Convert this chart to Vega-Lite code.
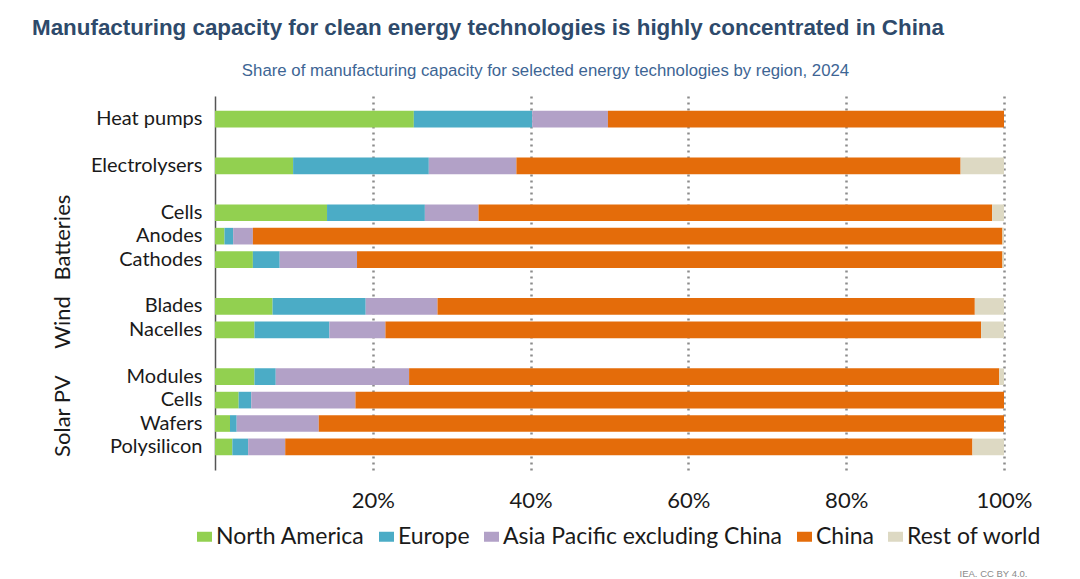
{
  "$schema": "https://vega.github.io/schema/vega-lite/v6.json",
  "width": 789,
  "height": 374,
  "autosize": {"type": "none"},
  "padding": {"left": 215, "top": 96, "right": 76, "bottom": 109},
  "background": "white",
  "config": {"view": {"stroke": null}},
  "title": {
    "text": "Manufacturing capacity for clean energy technologies is highly concentrated in China",
    "anchor": "start",
    "frame": "group",
    "dx": -183,
    "dy": -13,
    "font": "Liberation Sans",
    "fontSize": 22.4,
    "fontWeight": "bold",
    "color": "#2E4A6B",
    "offset": 10
  },
  "datasets": {
    "shares": [
      {"key": "Heat pumps", "region": "North America", "share": 25.2},
      {"key": "Heat pumps", "region": "Europe", "share": 15.0},
      {"key": "Heat pumps", "region": "Asia Pacific excluding China", "share": 9.6},
      {"key": "Heat pumps", "region": "China", "share": 50.2},
      {"key": "Heat pumps", "region": "Rest of world", "share": 0.0},
      {"key": "Electrolysers", "region": "North America", "share": 9.9},
      {"key": "Electrolysers", "region": "Europe", "share": 17.2},
      {"key": "Electrolysers", "region": "Asia Pacific excluding China", "share": 11.1},
      {"key": "Electrolysers", "region": "China", "share": 56.3},
      {"key": "Electrolysers", "region": "Rest of world", "share": 5.5},
      {"key": "Batteries|Cells", "region": "North America", "share": 14.2},
      {"key": "Batteries|Cells", "region": "Europe", "share": 12.4},
      {"key": "Batteries|Cells", "region": "Asia Pacific excluding China", "share": 6.8},
      {"key": "Batteries|Cells", "region": "China", "share": 65.1},
      {"key": "Batteries|Cells", "region": "Rest of world", "share": 1.5},
      {"key": "Batteries|Anodes", "region": "North America", "share": 1.2},
      {"key": "Batteries|Anodes", "region": "Europe", "share": 1.1},
      {"key": "Batteries|Anodes", "region": "Asia Pacific excluding China", "share": 2.5},
      {"key": "Batteries|Anodes", "region": "China", "share": 95.0},
      {"key": "Batteries|Anodes", "region": "Rest of world", "share": 0.2},
      {"key": "Batteries|Cathodes", "region": "North America", "share": 4.8},
      {"key": "Batteries|Cathodes", "region": "Europe", "share": 3.4},
      {"key": "Batteries|Cathodes", "region": "Asia Pacific excluding China", "share": 9.8},
      {"key": "Batteries|Cathodes", "region": "China", "share": 81.8},
      {"key": "Batteries|Cathodes", "region": "Rest of world", "share": 0.2},
      {"key": "Wind|Blades", "region": "North America", "share": 7.3},
      {"key": "Wind|Blades", "region": "Europe", "share": 11.8},
      {"key": "Wind|Blades", "region": "Asia Pacific excluding China", "share": 9.1},
      {"key": "Wind|Blades", "region": "China", "share": 68.1},
      {"key": "Wind|Blades", "region": "Rest of world", "share": 3.7},
      {"key": "Wind|Nacelles", "region": "North America", "share": 5.0},
      {"key": "Wind|Nacelles", "region": "Europe", "share": 9.5},
      {"key": "Wind|Nacelles", "region": "Asia Pacific excluding China", "share": 7.1},
      {"key": "Wind|Nacelles", "region": "China", "share": 75.5},
      {"key": "Wind|Nacelles", "region": "Rest of world", "share": 2.9},
      {"key": "Solar PV|Modules", "region": "North America", "share": 5.0},
      {"key": "Solar PV|Modules", "region": "Europe", "share": 2.7},
      {"key": "Solar PV|Modules", "region": "Asia Pacific excluding China", "share": 16.9},
      {"key": "Solar PV|Modules", "region": "China", "share": 74.8},
      {"key": "Solar PV|Modules", "region": "Rest of world", "share": 0.6},
      {"key": "Solar PV|Cells", "region": "North America", "share": 3.0},
      {"key": "Solar PV|Cells", "region": "Europe", "share": 1.6},
      {"key": "Solar PV|Cells", "region": "Asia Pacific excluding China", "share": 13.2},
      {"key": "Solar PV|Cells", "region": "China", "share": 82.2},
      {"key": "Solar PV|Cells", "region": "Rest of world", "share": 0.0},
      {"key": "Solar PV|Wafers", "region": "North America", "share": 1.9},
      {"key": "Solar PV|Wafers", "region": "Europe", "share": 0.85},
      {"key": "Solar PV|Wafers", "region": "Asia Pacific excluding China", "share": 10.4},
      {"key": "Solar PV|Wafers", "region": "China", "share": 86.85},
      {"key": "Solar PV|Wafers", "region": "Rest of world", "share": 0.0},
      {"key": "Solar PV|Polysilicon", "region": "North America", "share": 2.2},
      {"key": "Solar PV|Polysilicon", "region": "Europe", "share": 2.0},
      {"key": "Solar PV|Polysilicon", "region": "Asia Pacific excluding China", "share": 4.7},
      {"key": "Solar PV|Polysilicon", "region": "China", "share": 87.1},
      {"key": "Solar PV|Polysilicon", "region": "Rest of world", "share": 4.0}
    ],
    "regions": [
      {"region": "North America", "rank": 1},
      {"region": "Europe", "rank": 2},
      {"region": "Asia Pacific excluding China", "rank": 3},
      {"region": "China", "rank": 4},
      {"region": "Rest of world", "rank": 5}
    ],
    "groups1": [
      {"group": "Batteries", "key": "Batteries|Anodes"}
    ],
    "groups2": [
      {"group": "Wind", "key": "Wind|Blades"},
      {"group": "Solar PV", "key": "Solar PV|Cells"}
    ]
  },
  "resolve": {"axis": {"x": "independent"}},
  "layer": [
    {
      "data": {"name": "shares"},
      "transform": [
        {"lookup": "region", "from": {"data": {"name": "regions"}, "key": "region", "fields": ["rank"]}}
      ],
      "mark": {"type": "bar"},
      "encoding": {
        "y": {
          "field": "key",
          "type": "nominal",
          "scale": {
            "domain": ["Heat pumps", "gap1", "Electrolysers", "gap2", "Batteries|Cells", "Batteries|Anodes", "Batteries|Cathodes", "gap3", "Wind|Blades", "Wind|Nacelles", "gap4", "Solar PV|Modules", "Solar PV|Cells", "Solar PV|Wafers", "Solar PV|Polysilicon"],
            "paddingInner": 0.29,
            "paddingOuter": 0.63
          },
          "axis": {
            "title": null,
            "labelExpr": "indexof(datum.value, '|') >= 0 ? slice(datum.value, indexof(datum.value, '|') + 1) : (slice(datum.value, 0, 3) == 'gap' ? '' : datum.value)",
            "labelFont": "Lato",
            "labelFontSize": 20,
            "labelColor": "#1a1a1a",
            "labelPadding": 13,
            "ticks": false,
            "domain": true,
            "domainColor": "#555555",
            "domainWidth": 1.5,
            "grid": false
          }
        },
        "x": {
          "field": "share",
          "type": "quantitative",
          "stack": "zero",
          "scale": {"domain": [0, 100], "nice": false, "zero": true},
          "axis": {
            "values": [20, 40, 60, 80, 100],
            "labelExpr": "datum.value + '%'",
            "labelFont": "Lato",
            "labelFontSize": 22,
            "labelColor": "#1a1a1a",
            "labelPadding": 20,
            "labelFlush": false,
            "ticks": false,
            "domain": false,
            "grid": true,
            "gridColor": "#8c8c8c",
            "gridDash": [2, 4],
            "gridWidth": 2.5,
            "title": "IEA. CC BY 4.0.",
            "titleFont": "Liberation Sans",
            "titleFontSize": 9.5,
            "titleFontWeight": "normal",
            "titleColor": "#8a8a8a",
            "titleX": 812,
            "titleY": 106,
            "titleAlign": "right",
            "titleBaseline": "alphabetic"
          }
        },
        "order": {"field": "rank", "type": "quantitative", "sort": "ascending"},
        "color": {
          "field": "region",
          "type": "nominal",
          "scale": {
            "domain": ["North America", "Europe", "Asia Pacific excluding China", "China", "Rest of world"],
            "range": ["#92D050", "#4BACC6", "#B2A1C7", "#E46C0A", "#DDD9C3"]
          },
          "legend": {
            "title": null,
            "orient": "none",
            "direction": "horizontal",
            "legendX": -22,
            "legendY": 429,
            "symbolType": "M-1.5,-1L1.5,-1L1.5,1L-1.5,1Z",
            "symbolSize": 100,
            "symbolStrokeWidth": 0,
            "labelFont": "Lato",
            "labelFontSize": 23,
            "labelColor": "#1a1a1a",
            "labelOffset": 0,
            "columnPadding": 10,
            "labelLimit": 400
          }
        }
      }
    },
    {
      "data": {"name": "groups1"},
      "mark": {"type": "text", "angle": 270, "font": "Lato", "fontSize": 22, "color": "#1a1a1a", "align": "center", "baseline": "middle", "yOffset": 1.5},
      "encoding": {
        "y": {"field": "key", "type": "nominal"},
        "x": {
          "datum": -19.3,
          "type": "quantitative",
          "axis": {
            "orient": "top",
            "labels": false,
            "ticks": false,
            "domain": false,
            "grid": false,
            "title": "Share of manufacturing capacity for selected energy technologies by region, 2024",
            "titleFont": "Liberation Sans",
            "titleFontSize": 16.8,
            "titleFontWeight": "normal",
            "titleColor": "#3D6594",
            "titleX": 330,
            "titleY": -21,
            "titleAlign": "center",
            "titleBaseline": "alphabetic"
          }
        },
        "text": {"field": "group"}
      }
    },
    {
      "data": {"name": "groups2"},
      "mark": {"type": "text", "angle": 270, "font": "Lato", "fontSize": 22, "color": "#1a1a1a", "align": "center", "baseline": "middle", "yOffset": 16},
      "encoding": {
        "y": {"field": "key", "type": "nominal"},
        "x": {"datum": -19.3, "type": "quantitative", "axis": null},
        "text": {"field": "group"}
      }
    }
  ]
}
